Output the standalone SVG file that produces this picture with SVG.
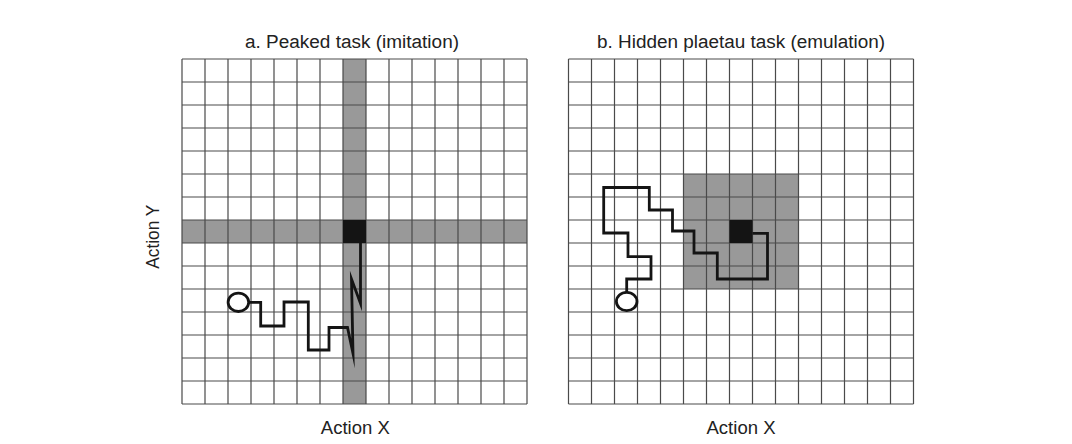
<svg xmlns="http://www.w3.org/2000/svg" width="1072" height="444" viewBox="0 0 1072 444">
<style>
.bg{fill:#ffffff}
.grid{fill:none;stroke:#4a4a4a;stroke-width:1.2}
.band{fill:#999999}
.goal{fill:#141414}
.trail{fill:none;stroke:#141414;stroke-width:2.8;stroke-linejoin:miter;stroke-miterlimit:20;stroke-linecap:butt}
.start{fill:#ffffff;stroke:#141414;stroke-width:2.8}
.lbl{font-family:"Liberation Sans",Arial,Helvetica,sans-serif;font-size:18px;fill:#222222}
</style>
<rect class="bg" x="0" y="0" width="1072" height="444"/>

<g id="panel-a">
  <rect class="band" x="343" y="59" width="23" height="345"/>
  <rect class="band" x="182" y="220" width="345" height="23"/>
  <path class="grid" d="M182,59V404M205,59V404M228,59V404M251,59V404M274,59V404M297,59V404M320,59V404M343,59V404M366,59V404M389,59V404M412,59V404M435,59V404M458,59V404M481,59V404M504,59V404M527,59V404M182,59H527M182,82H527M182,105H527M182,128H527M182,151H527M182,174H527M182,197H527M182,220H527M182,243H527M182,266H527M182,289H527M182,312H527M182,335H527M182,358H527M182,381H527M182,404H527"/>
  <rect class="goal" x="343" y="220" width="23" height="23"/>
  <path id="trail-a" class="trail" d="M248.6,302.3H260.7V326H284V302H308.3V350H329V327.5H347.5L353,353.5L351.5,279L360.5,303.5V243"/>
  <ellipse id="start-a" class="start" cx="238.4" cy="302.3" rx="10.3" ry="9.2"/>
</g>

<g id="panel-b">
  <rect class="band" x="683.5" y="174" width="115" height="115"/>
  <path class="grid" d="M568.5,59V404M591.5,59V404M614.5,59V404M637.5,59V404M660.5,59V404M683.5,59V404M706.5,59V404M729.5,59V404M752.5,59V404M775.5,59V404M798.5,59V404M821.5,59V404M844.5,59V404M867.5,59V404M890.5,59V404M913.5,59V404M568.5,59H913.5M568.5,82H913.5M568.5,105H913.5M568.5,128H913.5M568.5,151H913.5M568.5,174H913.5M568.5,197H913.5M568.5,220H913.5M568.5,243H913.5M568.5,266H913.5M568.5,289H913.5M568.5,312H913.5M568.5,335H913.5M568.5,358H913.5M568.5,381H913.5M568.5,404H913.5"/>
  <rect class="goal" x="729.5" y="220" width="23" height="23"/>
  <path id="trail-b" class="trail" d="M626.7,292.3V279H651V256.7H628V233H603.7V187.5H649.3V210H672.5V231H694V253H717.3V279H767.5V233.3H752.5"/>
  <ellipse id="start-b" class="start" cx="626.7" cy="301.5" rx="10.3" ry="9.2"/>
</g>

<g id="labels">
  <text class="lbl" x="352" y="48.3" text-anchor="middle" textLength="214" lengthAdjust="spacingAndGlyphs">a. Peaked task (imitation)</text>
  <text class="lbl" x="741" y="48.3" text-anchor="middle" textLength="288" lengthAdjust="spacingAndGlyphs">b. Hidden plaetau task (emulation)</text>
  <text class="lbl" x="355.3" y="434" text-anchor="middle" textLength="69" lengthAdjust="spacingAndGlyphs">Action X</text>
  <text class="lbl" x="741" y="434" text-anchor="middle" textLength="69" lengthAdjust="spacingAndGlyphs">Action X</text>
  <text class="lbl" transform="translate(159.3,236.7) rotate(-90)" x="0" y="0" text-anchor="middle" textLength="64" lengthAdjust="spacingAndGlyphs">Action Y</text>
</g>
</svg>
